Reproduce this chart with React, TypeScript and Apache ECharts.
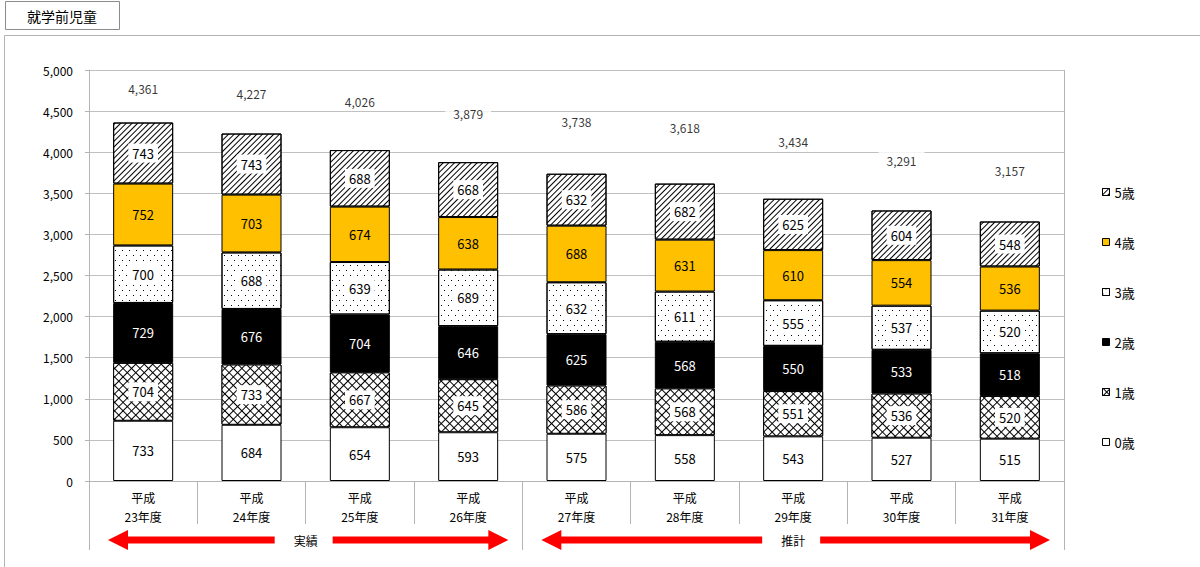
import React, { useEffect, useRef } from 'react';
import * as echarts from 'echarts';

const categories = [
  '平成\n23年度', '平成\n24年度', '平成\n25年度', '平成\n26年度', '平成\n27年度',
  '平成\n28年度', '平成\n29年度', '平成\n30年度', '平成\n31年度',
];
const age0 = [733, 684, 654, 593, 575, 558, 543, 527, 515];
const age1 = [704, 733, 667, 645, 586, 568, 551, 536, 520];
const age2 = [729, 676, 704, 646, 625, 568, 550, 533, 518];
const age3 = [700, 688, 639, 689, 632, 611, 555, 537, 520];
const age4 = [752, 703, 674, 638, 688, 631, 610, 554, 536];
const age5 = [743, 743, 688, 668, 632, 682, 625, 604, 548];
const totals = [4361, 4227, 4026, 3879, 3738, 3618, 3434, 3291, 3157];
const seriesNames = ['0歳', '1歳', '2歳', '3歳', '4歳', '5歳'];
const legendOrder = ['5歳', '4歳', '3歳', '2歳', '1歳', '0歳'];
const periodLabels = ['実績', '推計'];
const periodSplit = [0, 4, 9];
const titleText = '就学前児童';
const yMin = 0;
const yMax = 5000;
const yInterval = 500;

// label lift above the bar tops (px), styling only
const totalLabelLift = [34, 40, 49, 49, 52, 56, 57, 50, 51];

const FONT = '"Noto Sans CJK JP", "Noto Sans", sans-serif';
const GRID_L = 89;
const GRID_R = 1064;
const GRID_T = 70;
const GRID_B = 481;

const fmt = (v: number) => Number(v).toLocaleString('en-US');

export default function App() {
  const ref = useRef<HTMLDivElement>(null);
  useEffect(() => {
    const chart = echarts.init(ref.current!, null, { renderer: 'svg' });
    const values = [age0, age1, age2, age3, age4, age5];
    const styles: any[] = [
      { color: '#ffffff', labelColor: '#000', labelBg: null, decal: null },
      {
        color: '#000000', labelColor: '#000', labelBg: '#fff',
        decal: { symbol: 'rect', symbolSize: 1, color: '#ffffff', dashArrayX: [5, 1], dashArrayY: [5, 1], rotation: Math.PI / 4 },
      },
      { color: '#000000', labelColor: '#fff', labelBg: null, decal: null },
      {
        color: '#ffffff', labelColor: '#000', labelBg: '#fff',
        decal: { symbol: 'rect', symbolSize: 1, color: '#000000', dashArrayX: [[1, 6], [0, 3, 1, 3]], dashArrayY: [1, 4], rotation: 0 },
      },
      { color: '#ffc000', labelColor: '#000', labelBg: null, decal: null },
      {
        color: '#ffffff', labelColor: '#000', labelBg: '#fff',
        decal: { symbol: 'rect', symbolSize: 1, color: '#000000', dashArrayX: [1, 0], dashArrayY: [1, 3], rotation: -Math.PI / 4 },
      },
    ];
    const barSeries = seriesNames.map((name, i) => {
      const st = styles[i];
      const itemStyle: any = { color: st.color, borderColor: '#000', borderWidth: 1 };
      if (st.decal) itemStyle.decal = st.decal;
      return {
        name,
        type: 'bar',
        stack: 'total',
        barWidth: 60,
        data: values[i],
        itemStyle,
        label: {
          show: true,
          position: 'inside',
          color: st.labelColor,
          fontSize: 13,
          fontFamily: FONT,
          backgroundColor: st.labelBg || 'transparent',
          padding: st.labelBg ? [3, 4] : 0,
        },
      };
    });

    const catW = (GRID_R - GRID_L) / categories.length;
    const bx = (i: number) => GRID_L + i * catW;
    const arrowY = 540;
    const lineColor = '#b4b4b4';
    const graphics: any[] = [];
    graphics.push({
      type: 'rect', shape: { x: 4.5, y: 35.5, width: 1210, height: 600 },
      style: { fill: 'none', stroke: lineColor, lineWidth: 1 }, z: -10,
    });
    graphics.push({
      type: 'rect', shape: { x: 5.5, y: 1.5, width: 114, height: 28 },
      style: { fill: '#fff', stroke: '#8c8c8c', lineWidth: 1 },
    });
    graphics.push({
      type: 'text', x: 62, y: 16,
      style: { text: titleText, font: `14px ${FONT}`, fill: '#000', align: 'center', verticalAlign: 'middle' },
    });
    // long vertical lines
    [bx(periodSplit[0]), bx(periodSplit[1]), bx(periodSplit[2])].forEach((x, k) => {
      const xx = Math.round(x) + 0.5;
      graphics.push({
        type: 'line',
        shape: { x1: xx, y1: k === 2 ? GRID_T : GRID_B, x2: xx, y2: 550 },
        style: { stroke: lineColor, lineWidth: 1 },
      });
    });
    const arrowPoly = (tipX: number, tailX: number) => {
      const dir = tailX > tipX ? 1 : -1;
      const hl = 20 * dir;
      const hh = 10;
      const st = 3.5;
      return {
        type: 'polygon',
        shape: {
          points: [
            [tipX, arrowY], [tipX + hl, arrowY - hh], [tipX + hl, arrowY - st], [tailX, arrowY - st],
            [tailX, arrowY + st], [tipX + hl, arrowY + st], [tipX + hl, arrowY + hh],
          ],
        },
        style: { fill: '#ff0000' },
      };
    };
    for (let p = 0; p < 2; p++) {
      const a = bx(periodSplit[p]);
      const b = bx(periodSplit[p + 1]);
      const mid = (a + b) / 2;
      graphics.push(arrowPoly(a + 19, mid - 31));
      graphics.push(arrowPoly(b - 14, mid + 27));
      graphics.push({
        type: 'text', x: mid, y: arrowY,
        style: { text: periodLabels[p], font: `12px ${FONT}`, fill: '#000', align: 'center', verticalAlign: 'middle' },
      });
    }

    chart.setOption({
      animation: false,
      backgroundColor: '#fff',
      textStyle: { fontFamily: FONT },
      grid: { left: GRID_L, right: 1200 - GRID_R, top: GRID_T, bottom: 567 - GRID_B, containLabel: false },
      legend: {
        data: legendOrder,
        orient: 'vertical',
        left: 1097,
        top: 180,
        itemWidth: 7,
        itemHeight: 7,
        itemGap: 36,
        icon: 'rect',
        itemStyle: { borderColor: '#000', borderWidth: 1 },
        textStyle: { fontSize: 13, color: '#000', fontFamily: FONT, lineHeight: 14 },
        selectedMode: false,
      },
      xAxis: {
        type: 'category',
        data: categories,
        axisLine: { show: true, lineStyle: { color: lineColor } },
        axisTick: { show: true, length: 43, interval: 0, lineStyle: { color: lineColor } },
        axisLabel: { interval: 0, fontSize: 12, lineHeight: 19, margin: 7, color: '#000', fontFamily: FONT },
      },
      yAxis: {
        type: 'value',
        min: yMin,
        max: yMax,
        interval: yInterval,
        axisLine: { show: true, lineStyle: { color: lineColor } },
        axisTick: { show: true, length: 4, lineStyle: { color: lineColor } },
        axisLabel: { fontSize: 12, color: '#000', margin: 16, fontFamily: FONT, formatter: (v: number) => fmt(v) },
        splitLine: { show: true, lineStyle: { color: '#c0c0c0' } },
      },
      series: [
        ...barSeries,
        {
          name: 'total',
          type: 'scatter',
          symbolSize: 0,
          data: totals.map((v, i) => ({ value: v, label: { offset: [0, -totalLabelLift[i]] } })),
          z: 5,
          label: {
            show: true,
            position: 'inside',
            color: '#000',
            fontSize: 12,
            fontFamily: FONT,
            backgroundColor: '#fff',
            padding: [3, 8],
            formatter: (p: any) => fmt(p.value),
          },
        },
      ],
      graphic: graphics,
    });
    return () => chart.dispose();
  }, []);
  return (
    <div
      ref={ref}
      style={{ position: 'fixed', left: 0, top: 0, width: 1200, height: 567, background: '#fff' }}
    />
  );
}
